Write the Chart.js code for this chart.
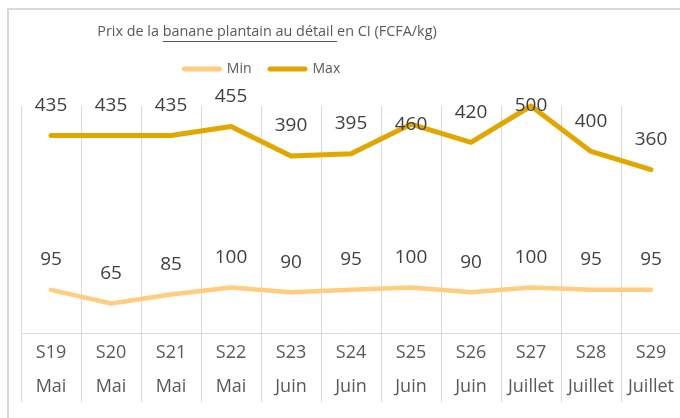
<!DOCTYPE html>
<html><head><meta charset="utf-8">
<script src="https://cdn.jsdelivr.net/npm/chart.js@4.4.1/dist/chart.umd.min.js"></script>
<style>
html,body{margin:0;padding:0;background:#fff;overflow:hidden;width:680px;height:418px}
#frame{position:absolute;left:7px;top:8px;width:800px;height:800px;border-top:2px solid #D9D9D9;border-left:2px solid #D9D9D9;box-sizing:border-box}
#wrap{position:absolute;left:0;top:0;width:700px;height:418px}
</style></head><body>
<div id="frame"></div>
<div id="wrap"><canvas id="c"></canvas></div>
<script>
const weeks = ["S19","S20","S21","S22","S23","S24","S25","S26","S27","S28","S29"];
const months = ["Mai","Mai","Mai","Mai","Juin","Juin","Juin","Juin","Juillet","Juillet","Juillet"];
const minValues = [95,65,85,100,90,95,100,90,100,95,95];
const maxValues = [435,435,435,455,390,395,460,420,500,400,360];
const seriesNames = ["Min","Max"];
const titleParts = ["Prix de la ", "banane plantain au détail ", "en CI (FCFA/kg)"];

const FONT = "'Open Sans', 'Noto Sans', sans-serif";
Chart.defaults.font.family = FONT;

const labels = weeks.map((w, i) => [w, months[i]]);

const pointLabels = {
  id: 'pointLabels',
  afterDatasetsDraw(chart, args, opts) {
    const ctx = chart.ctx;
    chart.data.datasets.forEach((ds, i) => {
      const meta = chart.getDatasetMeta(i);
      const offs = opts.offsets[i];
      ctx.save();
      ctx.font = opts.size + "px " + FONT;
      ctx.fillStyle = opts.color;
      ctx.textAlign = 'center';
      ctx.textBaseline = 'middle';
      meta.data.forEach((pt, j) => {
        ctx.fillText(String(ds.data[j]), pt.x, pt.y - offs[j]);
      });
      ctx.restore();
    });
  }
};

// category separators extending below the axis through the label rows
const separators = {
  id: 'separators',
  afterDraw(chart, args, opts) {
    const sx = chart.scales.x;
    const ctx = chart.ctx;
    ctx.save();
    ctx.strokeStyle = opts.color;
    ctx.lineWidth = 1;
    ctx.beginPath();
    for (let i = 0; i <= chart.data.labels.length; i++) {
      const px = Math.round(sx.getPixelForValue(i - 0.5) - 0.5) + 0.5;
      ctx.moveTo(px, sx.top);
      ctx.lineTo(px, sx.top + opts.length);
    }
    ctx.stroke();
    ctx.restore();
  }
};

const headerPlugin = {
  id: 'header',
  afterDraw(chart, args, opts) {
    const ctx = chart.ctx;
    ctx.save();
    ctx.font = opts.titleSize + "px " + FONT;
    ctx.fillStyle = opts.color;
    ctx.textBaseline = 'middle';
    ctx.textAlign = 'left';
    const widths = titleParts.map(p => ctx.measureText(p).width);
    const total = widths.reduce((a, b) => a + b, 0);
    let x = opts.titleCenter - total / 2;
    const ty = opts.titleY;
    titleParts.forEach((p, i) => {
      ctx.fillText(p, x, ty);
      if (i === 1) {
        const uy = Math.round(ty + opts.titleSize * 0.6) + 0.5;
        ctx.strokeStyle = opts.color;
        ctx.lineWidth = 1;
        ctx.beginPath();
        ctx.moveTo(x, uy);
        ctx.lineTo(x + widths[i], uy);
        ctx.stroke();
      }
      x += widths[i];
    });
    ctx.font = opts.legendSize + "px " + FONT;
    const items = chart.data.datasets.map(ds => ({ text: ds.label, color: ds.borderColor, w: ctx.measureText(ds.label).width }));
    const lineLen = 40, gap = 5, itemGap = 16;
    let lw = 0;
    items.forEach((it, i) => { lw += lineLen + gap + it.w + (i < items.length - 1 ? itemGap : 0); });
    let lx = opts.legendCenter - lw / 2;
    const ly = opts.legendY;
    items.forEach(it => {
      ctx.strokeStyle = it.color;
      ctx.lineWidth = 5;
      ctx.lineCap = 'round';
      ctx.beginPath();
      ctx.moveTo(lx + 2.5, ly);
      ctx.lineTo(lx + lineLen - 2.5, ly);
      ctx.stroke();
      ctx.fillStyle = opts.color;
      ctx.fillText(it.text, lx + lineLen + gap, ly);
      lx += lineLen + gap + it.w + itemGap;
    });
    ctx.restore();
  }
};

new Chart(document.getElementById('c'), {
  type: 'line',
  data: {
    labels: labels,
    datasets: [
      { label: seriesNames[0], data: minValues, borderColor: '#FFCC80', borderWidth: 4.5,
        pointRadius: 0, borderCapStyle: 'round', borderJoinStyle: 'round', tension: 0, clip: false },
      { label: seriesNames[1], data: maxValues, borderColor: '#E1A700', borderWidth: 5,
        pointRadius: 0, borderCapStyle: 'round', borderJoinStyle: 'round', tension: 0, clip: false }
    ]
  },
  options: {
    responsive: true,
    maintainAspectRatio: false,
    animation: false,
    events: [],
    layout: { padding: { left: 21, right: 19, top: 106, bottom: 11 } },
    plugins: {
      legend: { display: false },
      title: { display: false },
      tooltip: { enabled: false },
      pointLabels: { size: 19, color: '#404040', offsets: [
        [30,30,30,30,30,30,30,30,30,30,30],
        [30,30,30,30,30,30,0,30,0,30,30]
      ] },
      separators: { color: '#D9D9D9', length: 69 },
      header: { color: '#595959', titleSize: 14.4, titleCenter: 267, titleY: 32, legendSize: 14, legendCenter: 261, legendY: 69 }
    },
    scales: {
      x: {
        type: 'category',
        offset: true,
        grid: { display: true, offset: true, color: '#D9D9D9', lineWidth: 1, drawTicks: false },
        border: { display: true, color: '#D9D9D9', width: 1 },
        ticks: { color: '#595959', font: { size: 18, lineHeight: 34 / 18 }, padding: 3, maxRotation: 0, minRotation: 0, autoSkip: false }
      },
      y: { display: false, min: 0, max: 500 }
    }
  },
  plugins: [pointLabels, separators, headerPlugin]
});
</script>
</body></html>
